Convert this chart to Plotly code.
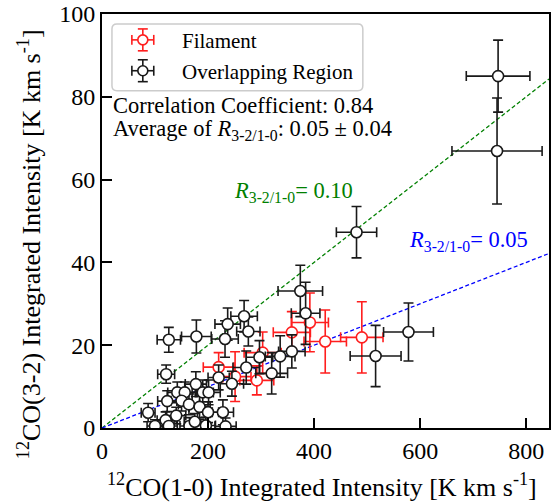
import plotly.graph_objects as go

# ---------------- data ----------------
fil_x = [220, 251, 292, 303, 358, 392, 421, 490]
fil_y = [14.7, 12.4, 11.5, 18.2, 23.1, 25.5, 20.9, 21.9]
fil_xerr = [29, 30, 32, 35, 35, 35, 40, 40]
fil_yerr = [3.5, 6.0, 3.5, 5.0, 5.0, 7.1, 7.6, 8.6]

ovl_x = [747, 745, 480, 374, 384, 578, 516, 268, 237, 276, 232, 178, 126,
         358, 336, 297, 272, 320, 220, 121, 245, 177, 142, 156, 190, 201,
         123, 150, 164, 184, 200, 228, 87, 120, 100, 126, 165, 183, 196,
         233, 140, 175]
ovl_y = [85.0, 66.9, 47.3, 33.1, 27.7, 23.2, 17.4, 27.0, 25.1, 23.3, 21.5,
         22.1, 21.3, 18.5, 17.3, 17.1, 14.6, 13.2, 12.2, 13.0, 10.7, 10.6,
         8.6, 8.6, 8.6, 8.6, 6.5, 6.6, 5.7, 5.1, 3.8, 3.8, 3.7, 1.9, 0.5,
         0.5, 0.5, 0.5, 0.6, 0.4, 3.0, 1.5]
ovl_xerr = [60, 85, 38, 42, 27, 47, 48, 25, 24, 22, 25, 28, 22,
            25, 28, 25, 25, 30, 20, 16, 22, 20, 18, 20, 20, 22,
            18, 20, 20, 20, 20, 20, 13, 16, 15, 16, 18, 18, 18,
            20, 18, 20]
ovl_yerr = [8.7, 12.8, 6.2, 6.2, 7.5, 7.0, 7.4, 3.8, 3.9, 3.5, 4.4,
            4.0, 3.0, 4.0, 5.0, 4.0, 4.0, 5.0, 3.0, 2.2, 3.0, 3.0,
            2.5, 2.5, 3.0, 3.0, 2.5, 2.5, 2.5, 3.0, 2.5, 3.0, 2.2, 2.0,
            1.5, 1.5, 2.0, 2.0, 2.0, 2.0, 2.0, 2.0]

ratio_high = 0.10
ratio_low = 0.05
x_max = 843
y_max = 100
x_ticks = [0, 200, 400, 600, 800]
y_ticks = [0, 20, 40, 60, 80, 100]

FONT = "Liberation Serif, Times New Roman, serif"
RED = "rgb(255,30,30)"
BLK = "rgb(25,25,25)"

fig = go.Figure()

# ratio lines
for r, col in [(ratio_high, "green"), (ratio_low, "blue")]:
    fig.add_trace(go.Scatter(x=[0, x_max], y=[0, r * x_max], mode="lines",
                             line=dict(color=col, width=1.3, dash="4px,2.5px"),
                             showlegend=False, hoverinfo="skip"))

def err_trace(x, y, xe, ye, col, name):
    return go.Scatter(
        x=x, y=y, mode="markers", name=name, showlegend=False,
        marker=dict(symbol="circle", size=11, color="white",
                    line=dict(color=col, width=1.6)),
        error_x=dict(type="data", array=xe, color=col, thickness=1.6, width=5),
        error_y=dict(type="data", array=ye, color=col, thickness=1.6, width=5),
    )

fig.add_trace(err_trace(fil_x, fil_y, fil_xerr, fil_yerr, RED, "Filament"))
fig.add_trace(err_trace(ovl_x, ovl_y, ovl_xerr, ovl_yerr, BLK, "Overlapping Region"))

# ---- layout geometry (pixels) ----
W, H = 552, 502
L, R, T, B = 102, 1, 12, 74
pw, ph = W - L - R, H - T - B

def px(xp):
    return (xp - L) / pw

def py(yp):
    return (H - B - yp) / ph

shapes = []
annotations = []

# legend box (rounded)
lx0, lx1 = 112, 364
ly0, ly1 = 22, 89
rr = 5
path = (f"M {px(lx0+rr)},{py(ly0)} L {px(lx1-rr)},{py(ly0)} "
        f"Q {px(lx1)},{py(ly0)} {px(lx1)},{py(ly0+rr)} "
        f"L {px(lx1)},{py(ly1-rr)} Q {px(lx1)},{py(ly1)} {px(lx1-rr)},{py(ly1)} "
        f"L {px(lx0+rr)},{py(ly1)} Q {px(lx0)},{py(ly1)} {px(lx0)},{py(ly1-rr)} "
        f"L {px(lx0)},{py(ly0+rr)} Q {px(lx0)},{py(ly0)} {px(lx0+rr)},{py(ly0)} Z")
shapes.append(dict(type="path", xref="paper", yref="paper", path=path,
                   line=dict(color="rgb(204,204,204)", width=1.5),
                   fillcolor="rgba(255,255,255,0.85)", layer="above"))

for (cy, col, label) in [(38, RED, "Filament"), (69, BLK, "Overlapping Region")]:
    cx = 143
    lw = 1.6
    shapes.append(dict(type="line", xref="paper", yref="paper",
                       x0=px(cx - 11), x1=px(cx + 11), y0=py(cy), y1=py(cy),
                       line=dict(color=col, width=lw), layer="above"))
    shapes.append(dict(type="line", xref="paper", yref="paper",
                       x0=px(cx), x1=px(cx), y0=py(cy - 11), y1=py(cy + 11),
                       line=dict(color=col, width=lw), layer="above"))
    for s in (-11, 11):
        shapes.append(dict(type="line", xref="paper", yref="paper",
                           x0=px(cx + s), x1=px(cx + s), y0=py(cy - 5), y1=py(cy + 5),
                           line=dict(color=col, width=lw), layer="above"))
        shapes.append(dict(type="line", xref="paper", yref="paper",
                           x0=px(cx - 5), x1=px(cx + 5), y0=py(cy + s), y1=py(cy + s),
                           line=dict(color=col, width=lw), layer="above"))
    shapes.append(dict(type="circle", xref="paper", yref="paper",
                       x0=px(cx - 5), x1=px(cx + 5), y0=py(cy - 5), y1=py(cy + 5),
                       line=dict(color=col, width=lw), fillcolor="white", layer="above"))
    annotations.append(dict(xref="paper", yref="paper", x=px(180), y=py(cy + 1),
                            xanchor="left", yanchor="middle", showarrow=False,
                            text=label, font=dict(family=FONT, size=21, color="black")))

annotations.append(dict(xref="paper", yref="paper", x=px(111), y=py(104),
                        xanchor="left", yanchor="middle", showarrow=False,
                        text="Correlation Coefficient: 0.84",
                        font=dict(family=FONT, size=22.5, color="black")))
annotations.append(dict(xref="paper", yref="paper", x=px(111), y=py(129),
                        xanchor="left", yanchor="middle", showarrow=False,
                        text="Average of <i>R</i><sub>3-2/1-0</sub>: 0.05 ± 0.04",
                        font=dict(family=FONT, size=22.5, color="black")))
annotations.append(dict(xref="paper", yref="paper", x=px(233), y=py(191),
                        xanchor="left", yanchor="middle", showarrow=False,
                        text="<i>R</i><sub>3-2/1-0</sub>= 0.10",
                        font=dict(family=FONT, size=22.5, color="green")))
annotations.append(dict(xref="paper", yref="paper", x=px(408), y=py(240),
                        xanchor="left", yanchor="middle", showarrow=False,
                        text="<i>R</i><sub>3-2/1-0</sub>= 0.05",
                        font=dict(family=FONT, size=22.5, color="blue")))

# axis titles
annotations.append(dict(xref="paper", yref="paper", x=px(323), y=py(486),
                        xanchor="center", yanchor="middle", showarrow=False,
                        text="<sup>12</sup>CO(1-0) Integrated Intensity [K km s<sup>-1</sup>]",
                        font=dict(family=FONT, size=26, color="black")))
annotations.append(dict(xref="paper", yref="paper", x=px(30), y=py(243),
                        xanchor="center", yanchor="middle", showarrow=False,
                        textangle=-90,
                        text="<sup>12</sup>CO(3-2) Integrated Intensity [K km s<sup>-1</sup>]",
                        font=dict(family=FONT, size=26, color="black")))

axis_common = dict(showgrid=False, zeroline=False, showline=True, linecolor="black",
                   linewidth=2, mirror=True, ticks="inside", ticklen=10, tickwidth=2,
                   tickcolor="black", ticklabeloverflow="allow",
                   tickfont=dict(family=FONT, size=24, color="black"))

fig.update_layout(
    width=W, height=H,
    margin=dict(l=L, r=R, t=T, b=B, pad=0),
    paper_bgcolor="white", plot_bgcolor="white",
    showlegend=False,
    xaxis=dict(range=[0, x_max], tickvals=x_ticks, **axis_common),
    yaxis=dict(range=[0, y_max], tickvals=y_ticks, **axis_common),
    shapes=shapes, annotations=annotations,
)

fig.write_html("out.html")
